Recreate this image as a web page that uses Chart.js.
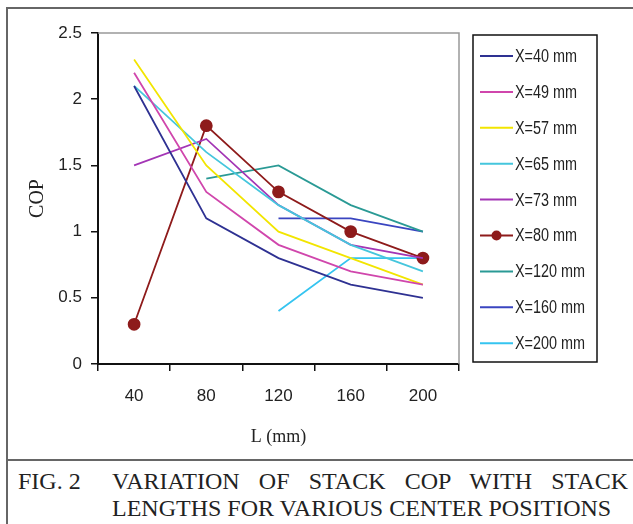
<!DOCTYPE html>
<html>
<head>
<meta charset="utf-8">
<script src="https://cdn.jsdelivr.net/npm/chart.js@4/dist/chart.umd.min.js"></script>
<style>
html, body { margin: 0; padding: 0; background: #fff; }
body { width: 633px; height: 524px; position: relative; overflow: hidden; }
#frame { position: absolute; left: 6px; top: 7px; width: 700px; height: 600px; border-left: 2px solid #666; border-top: 2px solid #666; }
#sep { position: absolute; left: 6px; top: 459px; width: 640px; height: 2px; background: #666; }
#wrap { position: absolute; left: 0; top: 0; width: 633px; height: 458px; }
.cap { position: absolute; font-family: 'Liberation Serif', 'Times New Roman', serif; font-size: 24px; color: #222; line-height: 27px; white-space: nowrap; }
#cap1 { left: 112px; top: 468px; width: 516px; text-align: justify; text-align-last: justify; }
</style>
</head>
<body>
<div id="frame"></div>
<div id="sep"></div>
<div id="wrap"><canvas id="cop" width="633" height="458"></canvas></div>
<div class="cap" style="left:18px;top:468px;">FIG. 2</div>
<div class="cap" id="cap1">VARIATION OF STACK COP WITH STACK</div>
<div class="cap" style="left:112px;top:495px;">LENGTHS FOR VARIOUS CENTER POSITIONS</div>

<script>
const lengths = ['40', '80', '120', '160', '200'];
const yTicks = [0, 0.5, 1, 1.5, 2, 2.5];

const x40 = [2.1, 1.1, 0.8, 0.6, 0.5];
const x49 = [2.2, 1.3, 0.9, 0.7, 0.6];
const x57 = [2.3, 1.5, 1.0, 0.8, 0.6];
const x65 = [2.1, 1.6, 1.2, 0.9, 0.7];
const x73 = [1.5, 1.7, 1.2, 0.9, 0.8];
const x80 = [0.3, 1.8, 1.3, 1.0, 0.8];
const x120 = [null, 1.4, 1.5, 1.2, 1.0];
const x160 = [null, null, 1.1, 1.1, 1.0];
const x200 = [null, null, 0.4, 0.8, 0.8];

const sans = "'Liberation Sans', Arial, sans-serif";
const serif = "'Liberation Serif', 'Times New Roman', serif";

const line = (label, data, color, marker) => ({
    label,
    data,
    borderColor: color,
    backgroundColor: color,
    borderWidth: 1.8,
    pointRadius: marker ? 5.5 : 0,
    pointHoverRadius: marker ? 5.5 : 0,
    tension: 0,
    fill: false,
});

// gray frame on top / right of the plot area
const plotFrame = {
    id: 'plotFrame',
    beforeDatasetsDraw(chart) {
        const { ctx, chartArea: a } = chart;
        ctx.save();
        ctx.strokeStyle = '#999';
        ctx.lineWidth = 1.5;
        ctx.beginPath();
        ctx.moveTo(a.left, a.top);
        ctx.lineTo(a.right, a.top);
        ctx.lineTo(a.right, a.bottom);
        ctx.stroke();
        ctx.restore();
    },
};

// boxed legend to the right of the plot (text squeezed like a narrow face)
const boxLegend = {
    id: 'boxLegend',
    afterDraw(chart) {
        const { ctx, chartArea: a } = chart;
        const left = a.right + 14;
        const top = a.top + 2;
        ctx.save();
        ctx.strokeStyle = '#111';
        ctx.lineWidth = 1.5;
        ctx.strokeRect(left, top, 124, 327);
        chart.data.datasets.forEach((ds, i) => {
            const y = top + 21 + i * 35.9;
            ctx.strokeStyle = ds.borderColor;
            ctx.lineWidth = 2;
            ctx.beginPath();
            ctx.moveTo(left + 7, y);
            ctx.lineTo(left + 40, y);
            ctx.stroke();
            if (ds.pointRadius) {
                ctx.fillStyle = ds.backgroundColor;
                ctx.beginPath();
                ctx.arc(left + 23.5, y, 5, 0, Math.PI * 2);
                ctx.fill();
            }
            ctx.save();
            ctx.translate(left + 42, y + 1);
            ctx.scale(0.8, 1);
            ctx.font = '18px ' + sans;
            ctx.textBaseline = 'middle';
            ctx.fillStyle = '#222';
            ctx.fillText(ds.label, 0, 0);
            ctx.restore();
        });
        ctx.restore();
    },
};

new Chart(document.getElementById('cop'), {
    type: 'line',
    data: {
        labels: lengths,
        datasets: [
            line('X=40 mm', x40, '#2E3192'),
            line('X=49 mm', x49, '#D046AC'),
            line('X=57 mm', x57, '#F2E500'),
            line('X=65 mm', x65, '#45C6DD'),
            line('X=73 mm', x73, '#A335B5'),
            line('X=80 mm', x80, '#8E1B1B', true),
            line('X=120 mm', x120, '#2A9A95'),
            line('X=160 mm', x160, '#3A45C0'),
            line('X=200 mm', x200, '#35C4F0'),
        ],
    },
    options: {
        responsive: false,
        animation: false,
        layout: { padding: { left: 0, top: 33, right: 174, bottom: 0 } },
        plugins: {
            legend: { display: false },
            tooltip: { enabled: false },
        },
        scales: {
            x: {
                type: 'category',
                offset: true,
                grid: { offset: true, drawOnChartArea: false, drawTicks: true, tickLength: 7, color: '#111', lineWidth: 1.5 },
                border: { display: true, color: '#111', width: 2 },
                ticks: { color: '#222', font: { family: sans, size: 17 }, padding: 15, maxRotation: 0 },
                title: { display: true, text: 'L (mm)', color: '#222', font: { family: serif, size: 18 }, padding: { top: 4, bottom: 10 } },
                afterFit: (s) => { s.height = 94; },
            },
            y: {
                min: 0,
                max: 2.5,
                afterBuildTicks: (s) => { s.ticks = yTicks.map((v) => ({ value: v })); },
                grid: { drawOnChartArea: false, drawTicks: true, tickLength: 7, color: '#111', lineWidth: 1.5 },
                border: { display: true, color: '#111', width: 2 },
                ticks: { color: '#222', font: { family: sans, size: 17 }, padding: 9, callback: (v) => String(v) },
                title: { display: true, text: 'COP', color: '#222', font: { family: serif, size: 20 }, padding: { top: 26, bottom: 0 } },
                afterFit: (s) => { s.width = 98; },
            },
        },
    },
    plugins: [plotFrame, boxLegend],
});
</script>
</body>
</html>
